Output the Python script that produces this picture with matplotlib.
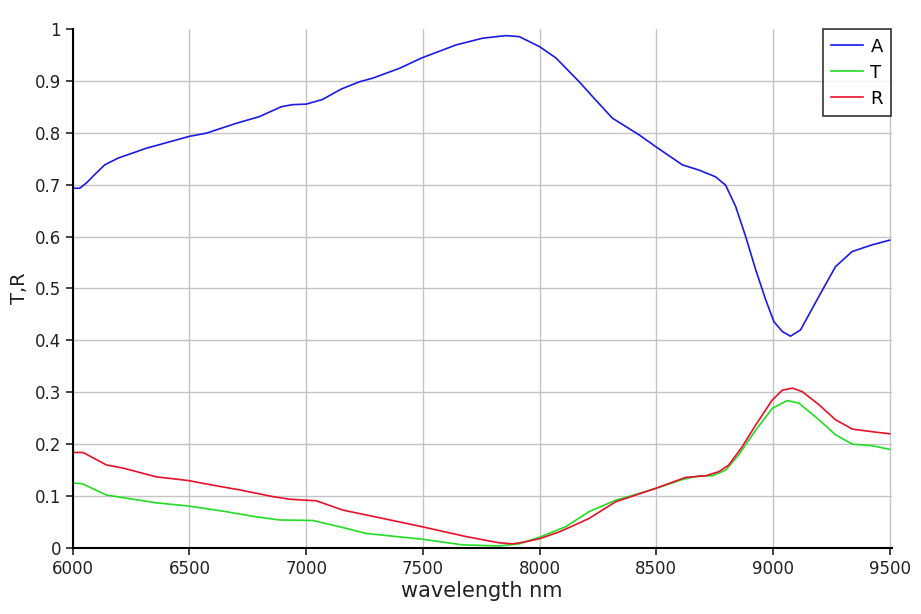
import matplotlib.pyplot as plt

# Datos (longitud de onda en nm)
wl_a = [6000, 6030, 6058, 6100, 6137, 6194, 6315, 6500, 6572, 6700, 6800, 6893,
        6942, 7000, 7070, 7150, 7228, 7285, 7400, 7495, 7642, 7756, 7856, 7913,
        7999, 8070, 8170, 8226, 8312, 8426, 8498, 8612, 8683, 8754, 8797, 8840,
        8883, 8926, 8969, 9004, 9040, 9075, 9118, 9196, 9268, 9339, 9425, 9500]
a = [0.693, 0.693, 0.703, 0.722, 0.738, 0.751, 0.770, 0.793, 0.799, 0.818, 0.831, 0.850,
     0.854, 0.855, 0.864, 0.884, 0.898, 0.905, 0.924, 0.944, 0.969, 0.982, 0.987, 0.985,
     0.966, 0.944, 0.898, 0.870, 0.828, 0.796, 0.773, 0.738, 0.728, 0.715, 0.699, 0.658,
     0.600, 0.536, 0.478, 0.436, 0.417, 0.408, 0.420, 0.484, 0.542, 0.571, 0.584, 0.593]

wl_t = [6000, 6040, 6144, 6230, 6358, 6494, 6643, 6786, 6886, 7028, 7143, 7257,
        7496, 7670, 7827, 7913, 8001, 8112, 8212, 8326, 8412, 8500, 8612, 8683,
        8740, 8797, 8854, 8926, 8997, 9061, 9111, 9197, 9268, 9340, 9425, 9500]
t = [0.125, 0.124, 0.102, 0.096, 0.087, 0.081, 0.071, 0.060, 0.054, 0.053, 0.041, 0.028,
     0.017, 0.006, 0.004, 0.008, 0.021, 0.041, 0.070, 0.092, 0.103, 0.115, 0.132, 0.139,
     0.139, 0.150, 0.180, 0.227, 0.269, 0.284, 0.279, 0.247, 0.218, 0.200, 0.197, 0.190]

wl_r = [6000, 6044, 6144, 6215, 6358, 6494, 6600, 6714, 6857, 6929, 7000, 7043,
        7157, 7328, 7496, 7685, 7827, 7884, 7941, 8001, 8084, 8169, 8212, 8326,
        8412, 8498, 8626, 8711, 8768, 8811, 8868, 8926, 8997, 9040, 9083, 9126,
        9197, 9268, 9340, 9425, 9500]
r = [0.184, 0.184, 0.160, 0.154, 0.137, 0.130, 0.121, 0.112, 0.099, 0.094, 0.092, 0.091,
     0.073, 0.057, 0.041, 0.022, 0.010, 0.008, 0.012, 0.018, 0.031, 0.048, 0.057, 0.089,
     0.102, 0.115, 0.136, 0.139, 0.147, 0.160, 0.195, 0.237, 0.285, 0.304, 0.308, 0.301,
     0.276, 0.247, 0.229, 0.224, 0.220]

x_ticks = [6000, 6500, 7000, 7500, 8000, 8500, 9000, 9500]
y_ticks = [0, 0.1, 0.2, 0.3, 0.4, 0.5, 0.6, 0.7, 0.8, 0.9, 1]
y_labels = ["0", "0.1", "0.2", "0.3", "0.4", "0.5", "0.6", "0.7", "0.8", "0.9", "1"]

plt.rcParams["font.family"] = ["DejaVu Sans"]

fig = plt.figure(figsize=(9.21, 6.14), dpi=100)
ax = fig.add_axes([0.079, 0.1075, 0.889, 0.8455])

ax.plot(wl_a, a, color="#1a1ae6", lw=1.2, label="A")
ax.plot(wl_t, t, color="#22dd22", lw=1.2, label="T")
ax.plot(wl_r, r, color="#e8102a", lw=1.2, label="R")

ax.set_xlim(6000, 9508)
ax.set_ylim(0, 1)
ax.set_xticks(x_ticks)
ax.set_yticks(y_ticks)
ax.set_yticklabels(y_labels)
ax.grid(True, color="#c4c4c4", lw=1)
ax.set_axisbelow(True)
# sin línea de rejilla en y=1
ax.yaxis.get_gridlines()[-1].set_visible(False)

for s in ["top", "right"]:
    ax.spines[s].set_visible(False)
for s in ["left", "bottom"]:
    ax.spines[s].set_linewidth(1.5)
ax.tick_params(direction="out", length=5, width=1.2, labelsize=12, colors="#222222")

ax.set_xlabel("wavelength nm", fontsize=15, color="#222222", labelpad=2)
ax.set_ylabel("T,R", fontsize=14, color="#222222", labelpad=4)

leg = ax.legend(loc="upper right", fontsize=13, frameon=True, fancybox=False,
                edgecolor="black", handlelength=1.8, borderaxespad=0.0,
                labelspacing=0.45, handletextpad=0.4, borderpad=0.45,
                bbox_to_anchor=(0.9995, 0.999))
leg.get_frame().set_linewidth(1.2)

plt.savefig("out.png", dpi=100)
